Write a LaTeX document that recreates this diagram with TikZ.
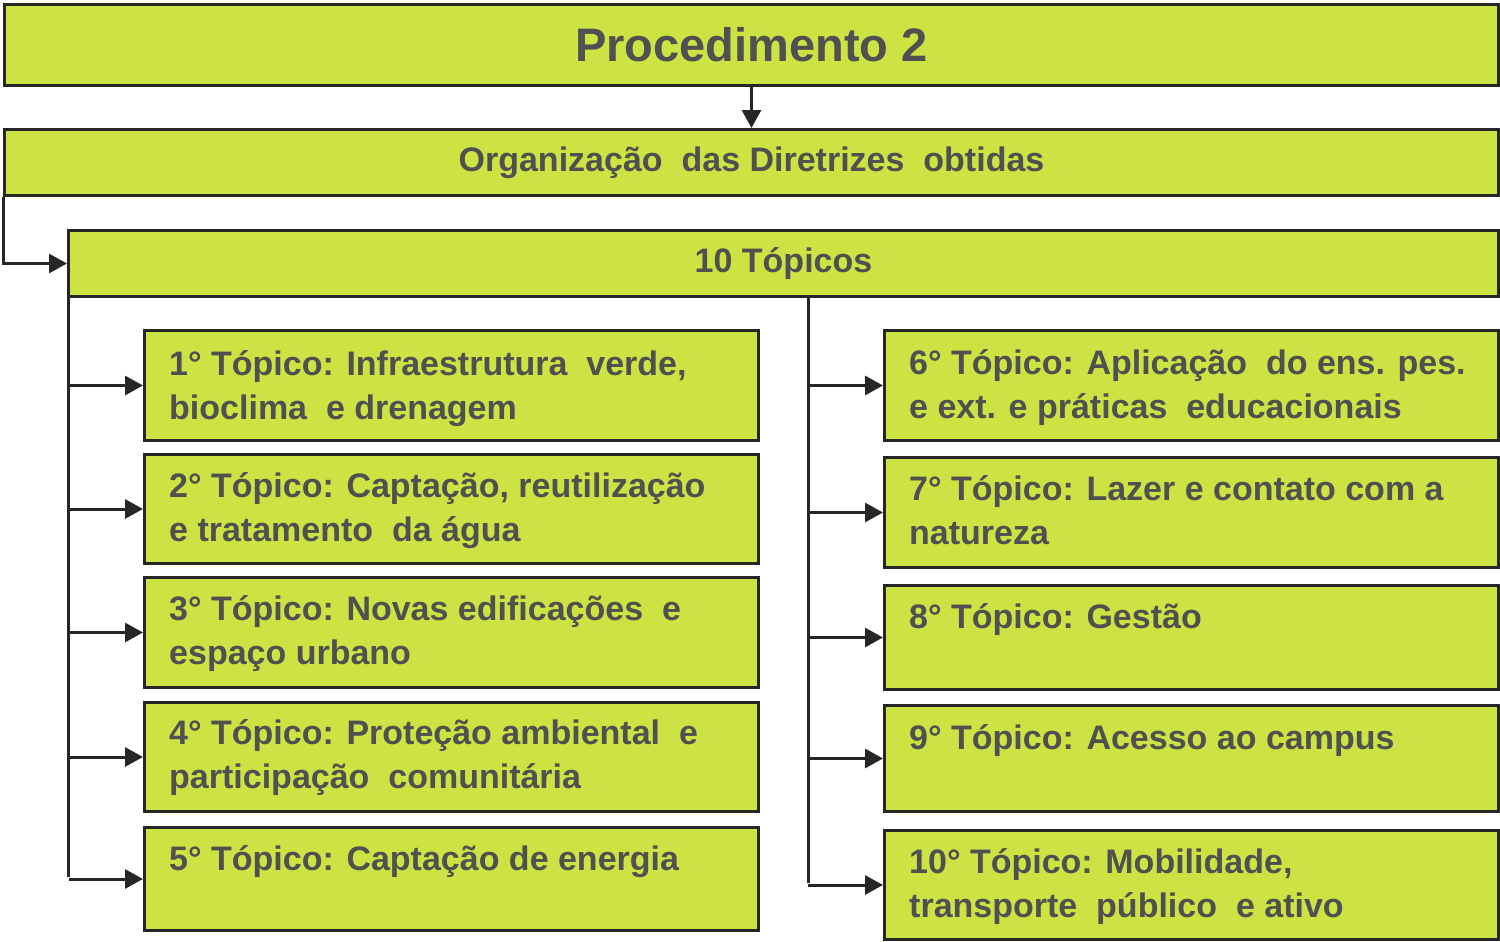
\documentclass[tikz,border=0pt]{standalone}
\usepackage{fontspec}
\setmainfont{Liberation Sans}
\usetikzlibrary{arrows.meta}
\definecolor{lime}{RGB}{205,227,68}
\definecolor{txt}{RGB}{80,80,80}
\definecolor{edge}{RGB}{38,38,38}
\begin{document}
\begin{tikzpicture}[x=1pt,y=-1pt,
  box/.style={draw=edge,line width=3pt,fill=lime,rectangle,inner sep=0pt,anchor=north west,font=\bfseries\fontsize{34pt}{44pt}\selectfont,text=txt},
  lbl/.style={anchor=base west,align=left,inner sep=0pt,text=txt,font=\bfseries\fontsize{34pt}{44pt}\selectfont},
  conn/.style={draw=edge,line width=3pt},
  arr/.style={conn,-{Triangle[length=18pt,width=19pt]}}]
\useasboundingbox (0,0) rectangle (1500,942);
% header boxes
\node[box,minimum width=1494pt,minimum height=81pt,font=\bfseries\fontsize{47pt}{56pt}\selectfont] (top) at (3,3) {Procedimento 2};
\node[box,minimum width=1494pt,minimum height=66pt] (org) at (3,128) {Organização\ \ das Diretrizes\ \ obtidas};
\node[box,minimum width=1430pt,minimum height=66pt] (tp) at (67,229) {10 Tópicos};
% left boxes
\node[box,minimum width=614pt,minimum height=110pt] (t1) at (143,329) {};
\node[box,minimum width=614pt,minimum height=109pt] (t2) at (143,453) {};
\node[box,minimum width=614pt,minimum height=110pt] (t3) at (143,576) {};
\node[box,minimum width=614pt,minimum height=109pt] (t4) at (143,701) {};
\node[box,minimum width=614pt,minimum height=103pt] (t5) at (143,826) {};
% right boxes
\node[box,minimum width=614pt,minimum height=110pt] (t6) at (883,329) {};
\node[box,minimum width=614pt,minimum height=110pt] (t7) at (883,456) {};
\node[box,minimum width=614pt,minimum height=104pt] (t8) at (883,584) {};
\node[box,minimum width=614pt,minimum height=106pt] (t9) at (883,704) {};
\node[box,minimum width=614pt,minimum height=109pt] (t10) at (883,829) {};
% labels (base anchor = baseline of last line)
\node[lbl] (l1) at ([shift={(26,90)}]t1.north west) {1° Tópico: Infraestrutura\ \ verde,\\bioclima\ \ e drenagem};
\node[lbl] (l2) at ([shift={(26,88)}]t2.north west) {2° Tópico: Captação, reutilização\\e tratamento\ \ da água};
\node[lbl] (l3) at ([shift={(26,88)}]t3.north west) {3° Tópico: Novas edificações\ \ e\\espaço urbano};
\node[lbl] (l4) at ([shift={(26,87)}]t4.north west) {4° Tópico: Proteção ambiental\ \ e\\participação\ \ comunitária};
\node[lbl] (l5) at ([shift={(26,44)}]t5.north west) {5° Tópico: Captação de energia};
\node[lbl] (l6) at ([shift={(26,89)}]t6.north west) {6° Tópico: Aplicação\ \ do ens. pes.\\e ext. e práticas\ \ educacionais};
\node[lbl] (l7) at ([shift={(26,88)}]t7.north west) {7° Tópico: Lazer e contato com a\\natureza};
\node[lbl] (l8) at ([shift={(26,44)}]t8.north west) {8° Tópico: Gestão};
\node[lbl] (l9) at ([shift={(26,45)}]t9.north west) {9° Tópico: Acesso ao campus};
\node[lbl] (l10) at ([shift={(26,88)}]t10.north west) {10° Tópico: Mobilidade,\\transporte\ \ público\ \ e ativo};
% connectors
\draw[arr] (top.south) -- (org.north);
\draw[arr] (org.south west) |- (tp.west);
\coordinate (lt) at ([xshift=1.5pt]tp.south west);
\coordinate (lb) at (lt |- 0,877);
\coordinate (rt) at (808,295);
\coordinate (rb) at (808,883);
\draw[conn] (lt) -- (lb);
\draw[conn] (rt) -- (rb);
\foreach \t in {t1,t2,t3,t4,t5}{\draw[arr] (lb |- \t.west) -- (\t.west);}
\foreach \t in {t6,t7,t8,t9,t10}{\draw[arr] (rb |- \t.west) -- (\t.west);}
\end{tikzpicture}
\end{document}
